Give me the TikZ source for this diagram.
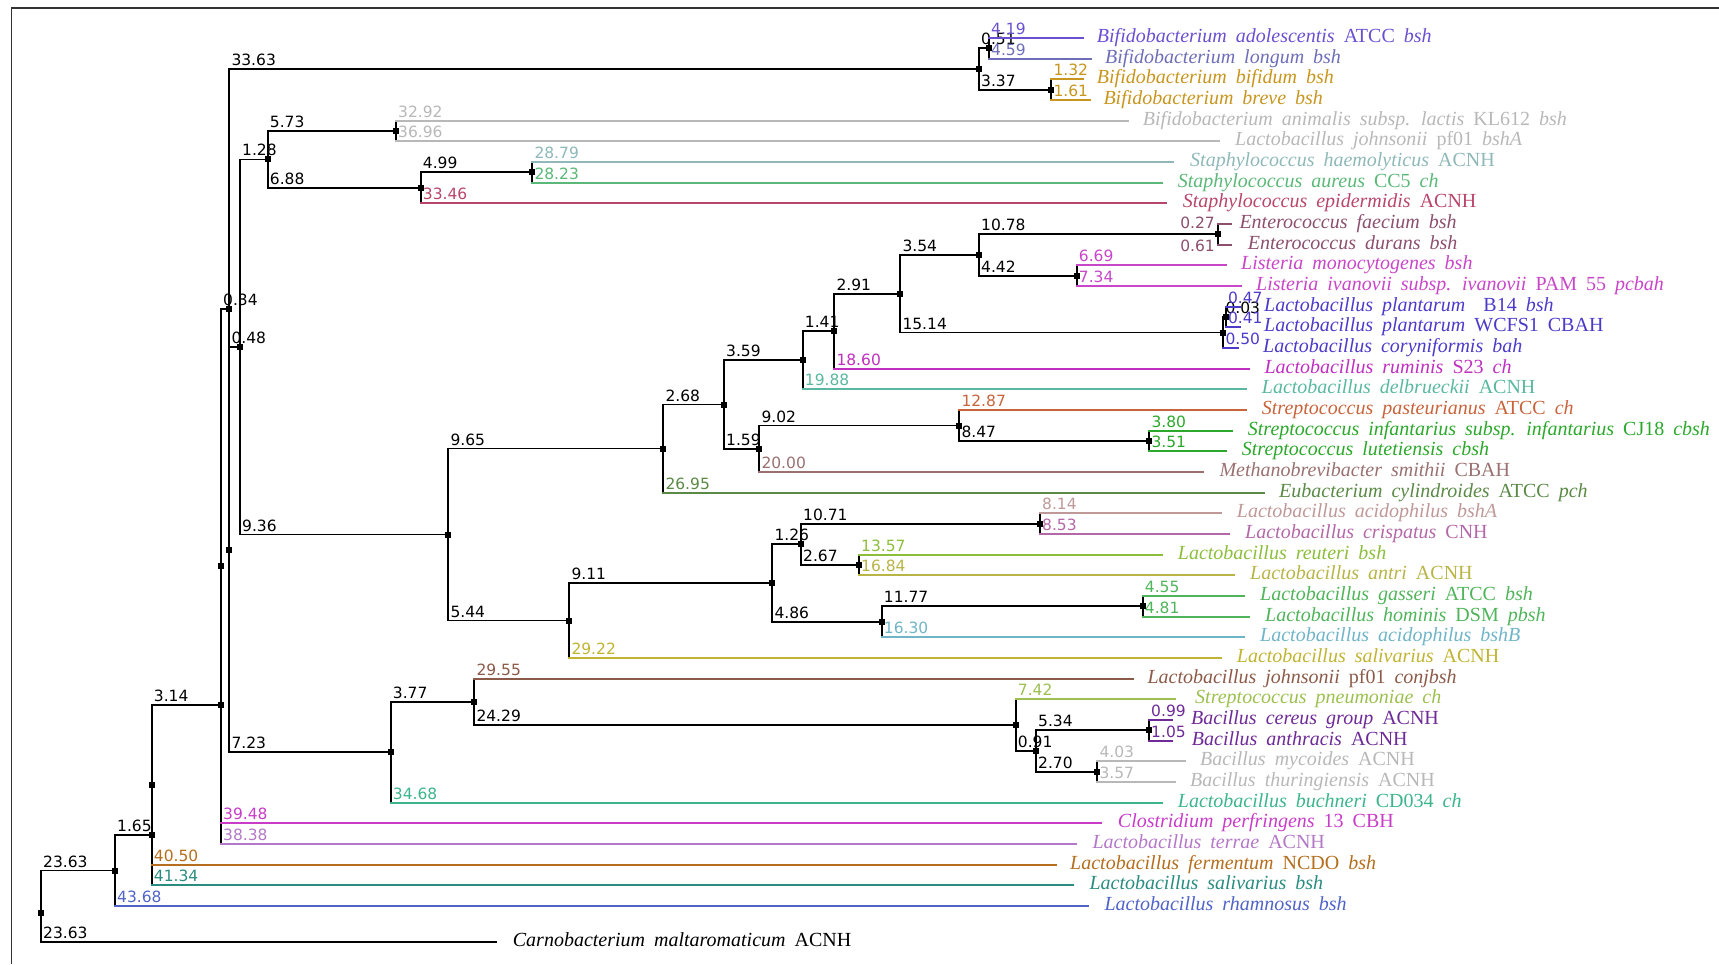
\documentclass[tikz,border=0pt]{standalone}
\usepackage{fontspec}
\newfontfamily\labf{Liberation Serif}
\newfontfamily\numf{DejaVu Sans}
\newcommand\I[1]{\textit{#1}}
\newcommand\widesp{\spaceskip=0.45em plus 0.1em\relax}
\newcommand\labfont{\labf\fontsize{20}{22}\selectfont\widesp}
\newcommand\numfont{\numf\fontsize{15.5}{16}\selectfont}
\definecolor{c0}{HTML}{6B4FD0}
\definecolor{c1}{HTML}{6E6EB8}
\definecolor{cgold}{HTML}{C8961E}
\definecolor{cgray}{HTML}{B8B8B8}
\definecolor{c6}{HTML}{8FB8B8}
\definecolor{c7}{HTML}{5BB878}
\definecolor{c8}{HTML}{B8466A}
\definecolor{c9}{HTML}{8C4F6E}
\definecolor{c11}{HTML}{C846C8}
\definecolor{c13}{HTML}{4B3BC8}
\definecolor{c16}{HTML}{C030C0}
\definecolor{c17}{HTML}{5AB8A0}
\definecolor{c18}{HTML}{C8643C}
\definecolor{c19}{HTML}{2CA82C}
\definecolor{c21}{HTML}{9A7070}
\definecolor{c22}{HTML}{5A8A46}
\definecolor{c23}{HTML}{C09898}
\definecolor{c24}{HTML}{B468A8}
\definecolor{c25}{HTML}{8CBE3C}
\definecolor{c26}{HTML}{B8B446}
\definecolor{c27}{HTML}{50B45A}
\definecolor{c29}{HTML}{70B4C8}
\definecolor{c30}{HTML}{C0B432}
\definecolor{c31}{HTML}{8C5A48}
\definecolor{c32}{HTML}{9CC050}
\definecolor{c33}{HTML}{6E2A96}
\definecolor{c37}{HTML}{3CB48C}
\definecolor{c38}{HTML}{C83CC8}
\definecolor{c39}{HTML}{B478C8}
\definecolor{c40}{HTML}{B46E1E}
\definecolor{c41}{HTML}{2A8C80}
\definecolor{c42}{HTML}{5064C8}
\newcommand\br[4]{%
  \draw[vl] (#1) -- (#1 |- #2);
  \draw[hl,draw=#3] (#1 |- #2) -- (#2);
  \path (#1 |- #2) ++(2,-3.5) node[num,text=#3] (b#2) {#4};}
\newcommand\brn[3]{%
  \draw[vl] (#1) -- (#1 |- #2);
  \draw[hl,draw=#3] (#1 |- #2) -- (#2);}
\newcommand\lf[6]{%
  \coordinate (e#1) at (#3,#2);
  \node[lab,text=#5] (t#1) at (#4,#2+4.5) {#6};}
\begin{document}
\begin{tikzpicture}[x=1pt,y=-1pt,
  vl/.style={line width=1.7pt, line cap=rect, draw=black},
  hl/.style={line width=1.7pt, line cap=rect},
  sq/.style={fill=black, minimum size=6pt, inner sep=0pt, draw=none},
  num/.style={font=\numfont, anchor=base west, inner sep=0pt},
  lab/.style={font=\labfont, anchor=base west, inner sep=0pt}]
\useasboundingbox (0,0) rectangle (1719,964);
\draw[line width=1.6pt, black!80] (11.3,964) -- (11.3,7.8) -- (1719,7.8);
% leaves
\lf{0}{38.0}{1082.7}{1096.7}{c0}{\I{Bifidobacterium adolescentis} ATCC \I{bsh}}
\lf{1}{58.7}{1091}{1105}{c1}{\I{Bifidobacterium longum bsh}}
\lf{2}{79.3}{1082.7}{1096.7}{cgold}{\I{Bifidobacterium bifidum bsh}}
\lf{3}{100.0}{1090}{1103.3}{cgold}{\I{Bifidobacterium breve bsh}}
\lf{4}{120.7}{1128.3}{1142.7}{cgray}{\I{Bifidobacterium animalis subsp. lactis} KL612 \I{bsh}}
\lf{5}{141.3}{1219.3}{1235}{cgray}{\I{Lactobacillus johnsonii} pf01 \I{bshA}}
\lf{6}{162.0}{1173.3}{1190}{c6}{\I{Staphylococcus haemolyticus} ACNH}
\lf{7}{182.7}{1161.7}{1177.7}{c7}{\I{Staphylococcus aureus} CC5 \I{ch}}
\lf{8}{203.3}{1166}{1182.7}{c8}{\I{Staphylococcus epidermidis} ACNH}
\lf{9}{224.0}{1230.7}{1239.3}{c9}{\I{Enterococcus faecium bsh}}
\lf{10}{244.7}{1230.7}{1247.7}{c9}{\I{Enterococcus durans bsh}}
\lf{11}{265.3}{1225.7}{1241}{c11}{\I{Listeria monocytogenes bsh}}
\lf{12}{286.0}{1240.7}{1256}{c11}{\I{Listeria ivanovii subsp. ivanovii} PAM 55 \I{pcbah}}
\lf{13}{306.7}{1240}{1264}{c13}{\I{Lactobacillus plantarum}\ \ B14 \I{bsh}}
\lf{14}{327.3}{1240}{1264}{c13}{\I{Lactobacillus plantarum} WCFS1 CBAH}
\lf{15}{348.0}{1238.3}{1263}{c13}{\I{Lactobacillus coryniformis bah}}
\lf{16}{368.7}{1249.3}{1264.3}{c16}{\I{Lactobacillus ruminis} S23 \I{ch}}
\lf{17}{389.3}{1246}{1261.7}{c17}{\I{Lactobacillus delbrueckii} ACNH}
\lf{18}{410.0}{1246}{1261.7}{c18}{\I{Streptococcus pasteurianus} ATCC \I{ch}}
\lf{19}{430.7}{1232.3}{1247.7}{c19}{\I{Streptococcus infantarius subsp. infantarius} CJ18 \I{cbsh}}
\lf{20}{451.3}{1225.7}{1241.7}{c19}{\I{Streptococcus lutetiensis cbsh}}
\lf{21}{472.0}{1203.3}{1219.3}{c21}{\I{Methanobrevibacter smithii} CBAH}
\lf{22}{492.7}{1264.3}{1279}{c22}{\I{Eubacterium cylindroides} ATCC \I{pch}}
\lf{23}{513.3}{1220.7}{1236.7}{c23}{\I{Lactobacillus acidophilus bshA}}
\lf{24}{534.0}{1229}{1245}{c24}{\I{Lactobacillus crispatus} CNH}
\lf{25}{554.7}{1161.7}{1177.7}{c25}{\I{Lactobacillus reuteri bsh}}
\lf{26}{575.3}{1234}{1250}{c26}{\I{Lactobacillus antri} ACNH}
\lf{27}{596.0}{1244}{1260}{c27}{\I{Lactobacillus gasseri} ATCC \I{bsh}}
\lf{28}{616.7}{1249.3}{1265}{c27}{\I{Lactobacillus hominis} DSM \I{pbsh}}
\lf{29}{637.3}{1244}{1260}{c29}{\I{Lactobacillus acidophilus bshB}}
\lf{30}{658.0}{1220.7}{1236.7}{c30}{\I{Lactobacillus salivarius} ACNH}
\lf{31}{678.7}{1133.3}{1147.3}{c31}{\I{Lactobacillus johnsonii} pf01 \I{conjbsh}}
\lf{32}{699.3}{1175}{1195}{c32}{\I{Streptococcus pneumoniae ch}}
\lf{33}{720.0}{1171.7}{1191}{c33}{\I{Bacillus cereus group} ACNH}
\lf{34}{740.7}{1171.7}{1191.7}{c33}{\I{Bacillus anthracis} ACNH}
\lf{35}{761.3}{1185}{1200}{cgray}{\I{Bacillus mycoides} ACNH}
\lf{36}{782.0}{1175}{1190}{cgray}{\I{Bacillus thuringiensis} ACNH}
\lf{37}{802.7}{1161.7}{1177.7}{c37}{\I{Lactobacillus buchneri} CD034 \I{ch}}
\lf{38}{823.3}{1100.7}{1117.7}{c38}{\I{Clostridium perfringens} 13 CBH}
\lf{39}{844.0}{1076}{1092.3}{c39}{\I{Lactobacillus terrae} ACNH}
\lf{40}{864.7}{1056}{1070}{c40}{\I{Lactobacillus fermentum} NCDO \I{bsh}}
\lf{41}{885.3}{1072.7}{1089.3}{c41}{\I{Lactobacillus salivarius bsh}}
\lf{42}{906.0}{1087.7}{1104.3}{c42}{\I{Lactobacillus rhamnosus bsh}}
\lf{43}{941.7}{495.7}{512.7}{black}{\I{Carnobacterium maltaromaticum} ACNH}
% internal nodes
\coordinate (R) at (41,912.7);
\coordinate (n1) at (115,870.5);
\coordinate (n2) at (151.7,835.1);
\coordinate (n3) at (151.7,784.9);
\coordinate (n4) at (221,705.1);
\coordinate (n5) at (221,566.3);
\coordinate (n6) at (229.3,309.3);
\coordinate (n7) at (229.3,549.6);
\coordinate (n8) at (240,347);
\coordinate (nB) at (979,69);
\coordinate (nBa) at (989,48.3);
\coordinate (nBb) at (1051.3,89.7);
\coordinate (nS) at (267.7,159.4);
\coordinate (nSa) at (396,131);
\coordinate (nSb) at (420.7,187.8);
\coordinate (nSc) at (532.3,172.3);
\coordinate (nM) at (448.3,534.5);
\coordinate (nMa) at (663.3,448.6);
\coordinate (nMc) at (724,404.5);
\coordinate (nMd) at (802.7,360.3);
\coordinate (nMf) at (834.3,331.2);
\coordinate (nMg) at (900.3,293.8);
\coordinate (nMh) at (979,255);
\coordinate (nE) at (1217.7,234.3);
\coordinate (nLi) at (1076.7,275.7);
\coordinate (nP) at (1223.3,332.5);
\coordinate (nPa) at (1225.8,317);
\coordinate (nMe) at (759.3,448.8);
\coordinate (nSt) at (959.3,425.5);
\coordinate (nSu) at (1149.3,441);
\coordinate (nMb) at (569.3,620.5);
\coordinate (nA) at (772.3,583);
\coordinate (nAa) at (801,544.3);
\coordinate (nAc) at (1040,523.7);
\coordinate (nAd) at (859,565);
\coordinate (nAb) at (881.7,621.8);
\coordinate (nAe) at (1142.7,606.3);
\coordinate (nL) at (390.7,752.3);
\coordinate (nLa) at (474.3,702);
\coordinate (nLb) at (1015.7,725.2);
\coordinate (nLc) at (1036,751);
\coordinate (nLd) at (1149,730.3);
\coordinate (nLe) at (1097.3,771.7);
% branches
\br{R}{n1}{black}{23.63}
\br{R}{e43}{black}{23.63}
\br{n1}{n2}{black}{1.65}
\br{n1}{e42}{c42}{43.68}
\draw[vl] (n2) -- (n3);
\br{n2}{e41}{c41}{41.34}
\br{n3}{n4}{black}{3.14}
\br{n3}{e40}{c40}{40.50}
\draw[vl] (n4) -- (n5);
\br{n4}{e39}{c39}{38.38}
\br{n5}{n6}{black}{0.34}
\br{n5}{e38}{c38}{39.48}
\br{n6}{nB}{black}{33.63}
\draw[vl] (n6) -- (n7);
\br{n7}{n8}{black}{0.48}
\br{n7}{nL}{black}{7.23}
\br{n8}{nS}{black}{1.28}
\br{n8}{nM}{black}{9.36}
\br{nB}{nBa}{black}{0.51}
\br{nB}{nBb}{black}{3.37}
\br{nBa}{e0}{c0}{4.19}
\br{nBa}{e1}{c1}{4.59}
\br{nBb}{e2}{cgold}{1.32}
\br{nBb}{e3}{cgold}{1.61}
\br{nS}{nSa}{black}{5.73}
\br{nS}{nSb}{black}{6.88}
\br{nSa}{e4}{cgray}{32.92}
\br{nSa}{e5}{cgray}{36.96}
\br{nSb}{nSc}{black}{4.99}
\br{nSb}{e8}{c8}{33.46}
\br{nSc}{e6}{c6}{28.79}
\br{nSc}{e7}{c7}{28.23}
\br{nM}{nMa}{black}{9.65}
\br{nM}{nMb}{black}{5.44}
\br{nMa}{nMc}{black}{2.68}
\br{nMa}{e22}{c22}{26.95}
\br{nMc}{nMd}{black}{3.59}
\br{nMc}{nMe}{black}{1.59}
\br{nMd}{nMf}{black}{1.41}
\br{nMd}{e17}{c17}{19.88}
\br{nMf}{nMg}{black}{2.91}
\br{nMf}{e16}{c16}{18.60}
\br{nMg}{nMh}{black}{3.54}
\br{nMg}{nP}{black}{15.14}
\br{nMh}{nE}{black}{10.78}
\br{nMh}{nLi}{black}{4.42}
\brn{nE}{e9}{c9}
\brn{nE}{e10}{c9}
\node[num,anchor=base east,text=c9] (be9) at (1215,228.5) {0.27};
\node[num,anchor=base east,text=c9] (be10) at (1215,251.5) {0.61};
\br{nLi}{e11}{c11}{6.69}
\br{nLi}{e12}{c11}{7.34}
\br{nP}{nPa}{black}{0.03}
\br{nP}{e15}{c13}{0.50}
\br{nPa}{e13}{c13}{0.47}
\br{nPa}{e14}{c13}{0.41}
\br{nMe}{nSt}{black}{9.02}
\br{nMe}{e21}{c21}{20.00}
\br{nSt}{e18}{c18}{12.87}
\br{nSt}{nSu}{black}{8.47}
\br{nSu}{e19}{c19}{3.80}
\br{nSu}{e20}{c19}{3.51}
\br{nMb}{nA}{black}{9.11}
\br{nMb}{e30}{c30}{29.22}
\br{nA}{nAa}{black}{1.26}
\br{nA}{nAb}{black}{4.86}
\br{nAa}{nAc}{black}{10.71}
\br{nAa}{nAd}{black}{2.67}
\br{nAc}{e23}{c23}{8.14}
\br{nAc}{e24}{c24}{8.53}
\br{nAd}{e25}{c25}{13.57}
\br{nAd}{e26}{c26}{16.84}
\br{nAb}{nAe}{black}{11.77}
\br{nAb}{e29}{c29}{16.30}
\br{nAe}{e27}{c27}{4.55}
\br{nAe}{e28}{c27}{4.81}
\br{nL}{nLa}{black}{3.77}
\br{nL}{e37}{c37}{34.68}
\br{nLa}{e31}{c31}{29.55}
\br{nLa}{nLb}{black}{24.29}
\br{nLb}{e32}{c32}{7.42}
\br{nLb}{nLc}{black}{0.91}
\br{nLc}{nLd}{black}{5.34}
\br{nLc}{nLe}{black}{2.70}
\br{nLd}{e33}{c33}{0.99}
\br{nLd}{e34}{c33}{1.05}
\br{nLe}{e35}{cgray}{4.03}
\br{nLe}{e36}{cgray}{3.57}
% node markers
\foreach \n in {R,n1,n2,n3,n4,n5,n6,n7,n8,nB,nBa,nBb,nS,nSa,nSb,nSc,nM,nMa,nMc,nMd,nMf,nMg,nMh,nE,nLi,nP,nPa,nMe,nSt,nSu,nMb,nA,nAa,nAc,nAd,nAb,nAe,nL,nLa,nLb,nLc,nLd,nLe}
  \node[sq] (q\n) at (\n) {};
\end{tikzpicture}
\end{document}
